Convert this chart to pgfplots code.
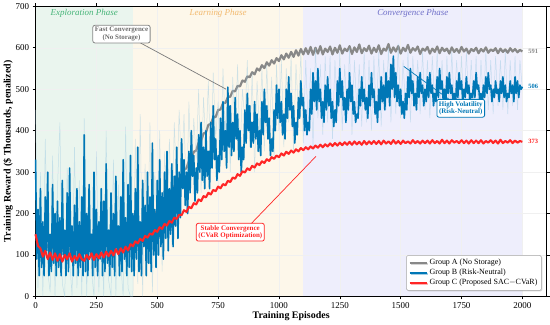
\documentclass[border=0pt]{standalone}
\usepackage{pgfplots}
\pgfplotsset{compat=1.18}
\usepackage{fontspec}
\setmainfont{Liberation Serif}
\usetikzlibrary{shadows}
\definecolor{cgrey}{RGB}{136,136,136}
\definecolor{cblue}{RGB}{0,119,182}
\definecolor{cred}{RGB}{255,38,38}
\definecolor{chaze}{RGB}{150,200,225}
\definecolor{bgexp}{RGB}{234,245,238}
\definecolor{bglearn}{RGB}{253,247,234}
\definecolor{bgconv}{RGB}{238,238,252}
\definecolor{txexp}{RGB}{70,180,120}
\definecolor{txlearn}{RGB}{242,185,110}
\definecolor{txconv}{RGB}{110,110,200}
\pgfplotsset{set layers}
\begin{document}
\begin{tikzpicture}
\begin{axis}[
  scale only axis, width=511bp, height=290bp,
  xmin=0, xmax=2100, ymin=0, ymax=700,
  xtick={0,250,...,2000}, ytick={0,100,...,700},
  /pgf/number format/1000 sep={},
  tick align=outside, major tick length=3bp,
  tick style={black, line width=0.6pt},
  axis line style={line width=1pt},
  grid=major, grid style={gray!12, line width=0.4pt},
  /pgf/number format/assume math mode=true,
  ticklabel style={font=\fontsize{9}{10}\selectfont},
  xlabel={\textbf{Training Episodes}},
  ylabel={\textbf{Training Reward (\$ Thousands, penalized)}},
  label style={font=\fontsize{10}{12}\selectfont},
  xlabel style={yshift=4bp},
  ylabel style={yshift=-4bp},
  legend style={at={(0.99,0.02)}, anchor=south east, font=\fontsize{8}{9.5}\selectfont,
     draw=gray!70, rounded corners=1.5pt, fill=white, drop shadow={opacity=0.35, shadow xshift=1pt, shadow yshift=-1pt},
     row sep=-1pt, inner sep=2pt},
  legend cell align=left,
  clip=false,
]
\begin{pgfonlayer}{axis background}
\fill[bgexp] (axis cs:0,0) rectangle (axis cs:400,700);
\fill[bglearn] (axis cs:400,0) rectangle (axis cs:1100,700);
\fill[bgconv] (axis cs:1100,0) rectangle (axis cs:2000,700);
\end{pgfonlayer}

\node[font=\fontsize{9}{10}\selectfont\itshape, text=txexp] at (axis cs:200,682) {Exploration Phase};
\node[font=\fontsize{9}{10}\selectfont\itshape, text=txlearn] at (axis cs:750,682) {Learning Phase};
\node[font=\fontsize{9}{10}\selectfont\itshape, text=txconv] at (axis cs:1550,682) {Convergence Phase};

% Group A (grey)
\addplot[cgrey, line width=2.2pt, line join=round] table[x expr=\coordindex*10, y index=0, header=false, row sep=\\] {
150\\138\\140\\126\\131\\119\\124\\116\\121\\112\\119\\110\\117\\111\\116\\109\\118\\112\\117\\110\\
118\\111\\120\\113\\122\\115\\124\\118\\128\\121\\131\\124\\135\\129\\139\\134\\144\\140\\149\\152\\
158\\157\\167\\165\\176\\174\\185\\184\\195\\199\\206\\215\\219\\233\\236\\251\\253\\266\\274\\285\\
290\\306\\309\\327\\332\\349\\352\\371\\375\\393\\396\\414\\416\\432\\433\\450\\451\\466\\467\\481\\
482\\496\\495\\508\\507\\521\\518\\531\\529\\541\\536\\550\\545\\558\\551\\565\\557\\570\\562\\575\\
568\\582\\572\\586\\576\\590\\578\\594\\581\\597\\584\\599\\585\\602\\583\\600\\586\\604\\584\\598\\
590\\603\\584\\600\\588\\606\\586\\598\\592\\604\\585\\601\\590\\608\\587\\599\\592\\605\\586\\600\\
590\\606\\585\\598\\593\\609\\588\\601\\591\\604\\586\\600\\592\\607\\588\\599\\593\\603\\585\\598\\
593\\602\\586\\598\\590\\603\\587\\600\\592\\598\\586\\601\\590\\597\\588\\602\\591\\598\\586\\597\\
592\\600\\587\\597\\591\\601\\588\\596\\592\\599\\587\\598\\590\\596\\588\\599\\591\\597\\589\\595\\
591\\
};
\addlegendentry{Group A (No Storage)}

% raw haze for Group B
\addplot[chaze, opacity=0.45, line width=0.5pt, forget plot] table[x expr=\coordindex*10, y index=0, header=false, row sep=\\] {
450\\20\\300\\0\\380\\60\\10\\340\\0\\260\\420\\30\\0\\310\\90\\0\\360\\20\\280\\0\\
430\\0\\250\\60\\0\\350\\10\\200\\0\\400\\40\\0\\330\\0\\270\\80\\0\\410\\20\\0\\
0\\380\\30\\440\\0\\320\\90\\420\\10\\300\\150\\400\\60\\350\\200\\380\\120\\420\\250\\450\\
300\\440\\200\\470\\280\\430\\330\\500\\250\\480\\360\\520\\300\\540\\380\\470\\320\\550\\400\\500\\
300\\530\\380\\560\\340\\500\\420\\570\\360\\540\\300\\520\\400\\550\\350\\560\\380\\530\\330\\560\\
400\\570\\360\\550\\420\\580\\350\\560\\440\\590\\370\\570\\410\\550\\360\\600\\430\\560\\390\\580\\
420\\580\\380\\570\\440\\590\\400\\560\\430\\600\\390\\570\\450\\560\\410\\590\\420\\570\\400\\580\\
430\\590\\410\\570\\450\\600\\420\\580\\440\\610\\430\\570\\450\\590\\420\\580\\460\\570\\440\\590\\
450\\570\\430\\580\\460\\590\\440\\570\\450\\580\\430\\590\\460\\570\\450\\580\\440\\590\\460\\570\\
450\\580\\440\\570\\460\\590\\450\\570\\440\\580\\460\\570\\450\\590\\440\\570\\460\\580\\450\\570\\
500\\
};

% Group B (blue)
\addplot[cblue, line width=1.6pt, line join=round] table[x expr=\coordindex*5, y index=0, header=false, row sep=\\] {
330\\90\\210\\50\\260\\70\\180\\50\\240\\110\\300\\50\\150\\60\\270\\80\\200\\50\\230\\70\\
190\\50\\280\\100\\160\\50\\250\\60\\310\\90\\170\\50\\220\\80\\260\\50\\180\\70\\240\\50\\
390\\60\\200\\50\\270\\100\\150\\50\\300\\70\\210\\50\\180\\90\\260\\50\\230\\60\\320\\80\\
160\\50\\250\\70\\200\\50\\290\\110\\170\\50\\240\\60\\330\\90\\190\\50\\270\\70\\340\\60\\
200\\50\\260\\90\\360\\60\\180\\50\\280\\120\\220\\50\\300\\80\\240\\60\\370\\100\\210\\70\\
280\\100\\330\\120\\250\\90\\300\\140\\350\\110\\260\\150\\320\\120\\290\\170\\360\\140\\300\\190\\
380\\260\\330\\220\\300\\200\\350\\250\\400\\290\\340\\230\\310\\250\\390\\300\\420\\280\\360\\260\\
400\\290\\350\\260\\420\\310\\460\\330\\380\\280\\340\\300\\430\\330\\470\\350\\400\\310\\505\\360\\
460\\340\\420\\350\\480\\380\\440\\330\\400\\300\\360\\330\\450\\370\\490\\400\\460\\360\\420\\370\\
470\\380\\440\\350\\400\\340\\470\\390\\500\\420\\460\\380\\430\\340\\380\\350\\450\\400\\510\\430\\
500\\420\\470\\390\\440\\380\\500\\430\\530\\450\\490\\410\\460\\370\\420\\390\\480\\430\\520\\460\\
480\\400\\450\\390\\420\\400\\500\\440\\540\\470\\520\\450\\550\\470\\500\\430\\470\\420\\510\\450\\
530\\460\\500\\430\\470\\410\\450\\420\\520\\460\\550\\480\\520\\450\\480\\420\\500\\450\\540\\470\\
510\\440\\470\\420\\440\\430\\500\\460\\530\\470\\500\\450\\480\\430\\510\\460\\540\\480\\500\\440\\
470\\420\\500\\450\\530\\470\\510\\450\\540\\480\\520\\460\\560\\500\\580\\480\\540\\470\\510\\460\\
500\\440\\470\\430\\490\\450\\530\\480\\550\\490\\520\\460\\490\\450\\530\\480\\540\\490\\510\\460\\
500\\470\\530\\480\\540\\490\\510\\460\\490\\470\\530\\480\\550\\500\\520\\470\\500\\460\\530\\490\\
540\\490\\510\\470\\490\\460\\520\\480\\540\\500\\520\\470\\500\\480\\530\\490\\510\\470\\490\\480\\
520\\480\\540\\500\\510\\470\\490\\460\\510\\480\\530\\490\\540\\500\\510\\470\\500\\480\\520\\490\\
500\\470\\520\\490\\530\\480\\510\\470\\490\\480\\520\\490\\510\\470\\530\\490\\520\\480\\510\\500\\
506\\
};
\addlegendentry{Group B (Risk-Neutral)}

% Group C (red)
\addplot[cred, line width=2.1pt, line join=round] table[x expr=\coordindex*10, y index=0, header=false, row sep=\\] {
150\\122\\116\\96\\110\\90\\106\\88\\104\\86\\102\\84\\100\\90\\104\\84\\98\\88\\102\\90\\
86\\100\\90\\104\\88\\102\\92\\106\\94\\108\\97\\110\\99\\114\\102\\116\\106\\120\\111\\126\\
121\\133\\128\\139\\134\\146\\142\\152\\149\\160\\156\\167\\163\\175\\171\\182\\178\\190\\187\\197\\
196\\208\\204\\216\\213\\225\\222\\234\\230\\242\\239\\250\\246\\257\\254\\265\\261\\271\\268\\279\\
276\\287\\284\\295\\291\\302\\299\\309\\305\\315\\311\\321\\317\\326\\322\\331\\327\\336\\332\\340\\
336\\345\\340\\349\\344\\352\\347\\355\\350\\358\\353\\360\\355\\362\\357\\364\\359\\366\\360\\367\\
362\\369\\363\\370\\364\\371\\365\\372\\366\\373\\366\\374\\367\\373\\366\\375\\367\\374\\368\\375\\
368\\375\\367\\376\\369\\374\\368\\377\\369\\375\\368\\376\\370\\374\\369\\377\\370\\375\\369\\376\\
370\\376\\369\\377\\370\\375\\369\\378\\370\\376\\369\\377\\371\\375\\370\\377\\370\\376\\369\\377\\
370\\376\\370\\377\\369\\375\\371\\377\\370\\376\\369\\378\\370\\375\\371\\377\\370\\376\\371\\375\\
373\\
};
\addlegendentry{Group C (Proposed SAC$-$CVaR)}

% end labels
\node[anchor=west, font=\fontsize{6.5}{7}\selectfont\bfseries, text=cgrey] at (axis cs:2010,591) {591};
\node[anchor=west, font=\fontsize{6.5}{7}\selectfont\bfseries, text=cblue] at (axis cs:2010,506) {506};
\node[anchor=west, font=\fontsize{6.5}{7}\selectfont\bfseries, text=cred] at (axis cs:2010,373) {373};

% annotations
\draw[cgrey!90!black, line width=0.7pt] (axis cs:430,612) -- (axis cs:783,500);
\node[draw=cgrey, line width=0.8pt, rounded corners=2pt, fill=white, text=cgrey!80!black, align=center,
  font=\fontsize{7}{7.5}\selectfont\bfseries, inner sep=2pt] at (axis cs:353,633) {Fast Convergence\\(No Storage)};

\draw[cblue, line width=0.7pt] (axis cs:1700,475) -- (axis cs:1513,555);
\node[draw=cblue, line width=0.8pt, rounded corners=2pt, fill=white, text=cblue, align=center,
  font=\fontsize{7}{7.5}\selectfont\bfseries, inner sep=2pt] at (axis cs:1747,454) {High Volatility\\(Risk-Neutral)};

\draw[cred, line width=0.7pt] (axis cs:880,172) -- (axis cs:1152,338);
\node[draw=cred, line width=0.8pt, rounded corners=2pt, fill=white, text=cred, align=center,
  font=\fontsize{7}{7.5}\selectfont\bfseries, inner sep=2pt] at (axis cs:800,155) {Stable Convergence\\(CVaR Optimization)};
\end{axis}
\end{tikzpicture}
\end{document}
